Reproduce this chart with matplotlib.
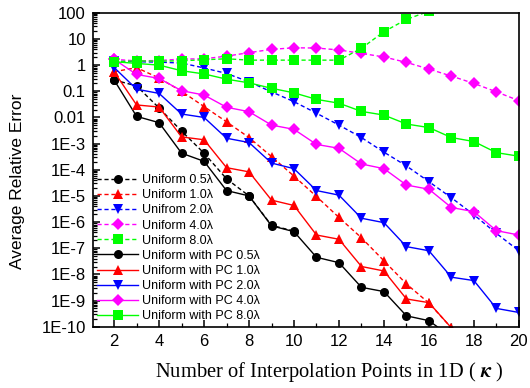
import matplotlib
matplotlib.use("Agg")
import matplotlib.pyplot as plt
from matplotlib.ticker import FixedLocator, LogLocator, NullFormatter, MultipleLocator

# данные
k_short = list(range(2, 11))
k_16 = list(range(2, 18))
k_all = list(range(2, 21))

uni_05 = [0.27, 0.16, 0.023, 0.003, 4.3e-4, 4.5e-5, 1.0e-5, 7.5e-7, 4.5e-7]
uni_10 = [0.56, 0.8, 0.32, 0.1, 0.026, 6.8e-3, 1.7e-3, 3.2e-4, 5.7e-5, 9.5e-6,
          1.5e-6, 2.5e-7, 3.3e-8, 4.3e-9, 8e-10, 9e-11]
uni_20 = [1.4, 1.35, 1.3, 1.2, 0.78, 0.48, 0.23, 0.095, 0.04, 0.0145, 5.1e-3,
          1.7e-3, 4.7e-4, 1.4e-4, 3.5e-5, 8.5e-6, 1.9e-6, 3.7e-7, 8e-8]
uni_40 = [1.66, 1.45, 1.5, 1.7, 1.75, 2.2, 3.0, 4.0, 4.6, 4.5, 3.8, 2.8, 2.05,
          1.27, 0.71, 0.38, 0.2, 0.095, 0.044]
uni_80 = [1.35, 1.45, 1.42, 1.47, 1.6, 1.75, 1.55, 1.55, 1.55, 1.55, 1.55, 4.4,
          19, 56, 115, 300]

pc_05 = [0.27, 0.011, 0.0063, 4.3e-4, 2.1e-4, 1.6e-5, 1.0e-5, 7.2e-7, 4.3e-7,
         4.5e-8, 2.8e-8, 3.2e-9, 2.2e-9, 2.6e-10, 1.7e-10, 4e-11]
pc_10 = [0.56, 0.03, 0.025, 1.8e-3, 1.4e-3, 1.2e-4, 8.3e-5, 6.9e-6, 4.3e-6,
         3.2e-7, 2.2e-7, 2e-8, 1.35e-8, 1.15e-9, 8.3e-10, 9e-11]
pc_20 = [0.81, 0.12, 0.083, 0.0135, 0.01, 1.6e-3, 1.1e-3, 1.8e-4, 1.1e-4,
         1.6e-5, 1.07e-5, 1.4e-6, 9.5e-7, 1.15e-7, 8e-8, 7.8e-9, 5.8e-9,
         5e-10, 3.5e-10]
pc_40 = [1.66, 0.44, 0.31, 0.105, 0.072, 0.0245, 0.0166, 5.1e-3, 3.5e-3,
         9.3e-4, 6.6e-4, 1.66e-4, 1.1e-4, 2.6e-5, 1.8e-5, 3.6e-6, 2.5e-6,
         4.7e-7, 3.2e-7]
pc_80 = [1.35, 1.16, 1.0, 0.61, 0.46, 0.29, 0.21, 0.13, 0.087, 0.049, 0.035,
         0.017, 0.0123, 5.6e-3, 4.1e-3, 1.7e-3, 1.2e-3, 4.5e-4, 3.3e-4]

y_ticks = [1e2, 1e1, 1, 1e-1, 1e-2, 1e-3, 1e-4, 1e-5, 1e-6, 1e-7, 1e-8, 1e-9, 1e-10]
y_labels = ["100", "10", "1", "0.1", "0.01", "1E-3", "1E-4", "1E-5", "1E-6",
            "1E-7", "1E-8", "1E-9", "1E-10"]

plt.rcParams['font.family'] = ['Liberation Sans', 'DejaVu Sans']
plt.rcParams['mathtext.fontset'] = 'stix'

fig = plt.figure(figsize=(5.3, 3.88), dpi=100)
ax = fig.add_axes([0.175, 0.158, 0.804, 0.809])

series = [
    (k_short, uni_05, 'black', 'o', '--', 'Uniform 0.5λ'),
    (k_16, uni_10, 'red', '^', '--', 'Uniform 1.0λ'),
    (k_all, uni_20, 'blue', 'v', '--', 'Unifrom 2.0λ'),
    (k_all, uni_40, 'magenta', 'D', '--', 'Uniform 4.0λ'),
    (k_16, uni_80, '#00ff00', 's', '--', 'Uniform 8.0λ'),
    (k_16, pc_05, 'black', 'o', '-', 'Uniform with PC 0.5λ'),
    (k_16, pc_10, 'red', '^', '-', 'Uniform with PC 1.0λ'),
    (k_all, pc_20, 'blue', 'v', '-', 'Uniform with PC 2.0λ'),
    (k_all, pc_40, 'magenta', 'D', '-', 'Uniform with PC 4.0λ'),
    (k_all, pc_80, '#00ff00', 's', '-', 'Uniform with PC 8.0λ'),
]

for xs, ys, col, mk, ls, lab in series:
    ms = 5.8 if mk == 'D' else 6.5
    line, = ax.plot(xs, ys, color=col, marker=mk, linestyle=ls, label=lab,
                    linewidth=1.0, markersize=ms, markeredgewidth=0)
    if ls == '--':
        line.set_dashes((3, 2))

ax.set_yscale('log')
ax.set_ylim(1e-10, 100)
ax.set_xlim(1.05, 20)

ax.yaxis.set_major_locator(FixedLocator(y_ticks))
ax.set_yticklabels(y_labels)
ax.yaxis.set_minor_locator(LogLocator(base=10, subs=range(2, 10), numticks=50))
ax.yaxis.set_minor_formatter(NullFormatter())
ax.xaxis.set_major_locator(MultipleLocator(2))
ax.xaxis.set_minor_locator(MultipleLocator(1))

ax.tick_params(which='both', direction='in', top=False, right=False,
               labelsize=12)
ax.tick_params(which='major', length=5, width=1.1, pad=5)
ax.tick_params(which='minor', length=3, width=0.9)
for sp in ax.spines.values():
    sp.set_linewidth(1.2)

ax.set_ylabel('Average Relative Error', fontsize=12.5)
ax.yaxis.set_label_coords(-0.16, 0.462)
ax.set_xlabel(r'Number of Interpolation Points in 1D ( $\boldsymbol{\kappa}$ )',
              fontsize=14.8, family=['Liberation Serif', 'DejaVu Serif'])
ax.xaxis.set_label_coords(0.556, -0.105)

ax.legend(loc='lower left', bbox_to_anchor=(0.0, 0.0), frameon=False,
          fontsize=9, handlelength=3.3, handletextpad=0.25, labelspacing=0.25,
          borderaxespad=0.0, borderpad=0.35)

fig.savefig('out.png', dpi=100)
